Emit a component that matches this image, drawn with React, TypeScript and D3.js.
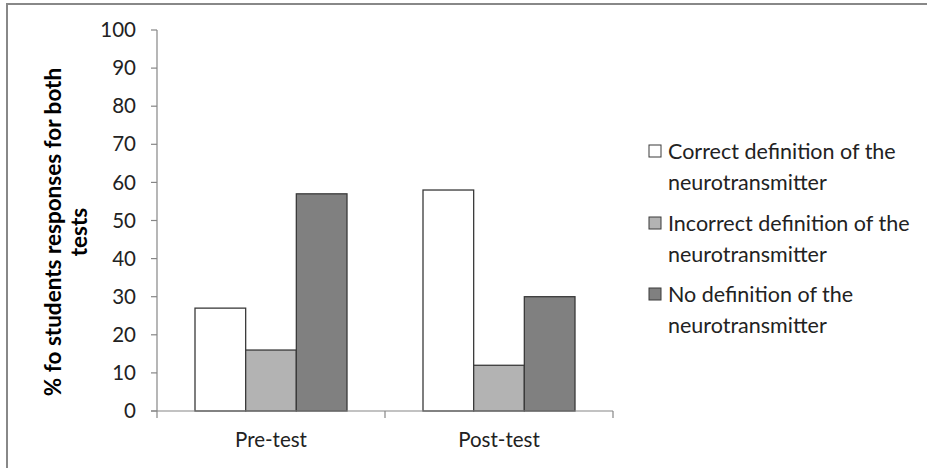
import React from "react";
import * as d3 from "d3";

const categories = ["Pre-test", "Post-test"];
const seriesNames = [
  ["Correct definition of the", "neurotransmitter"],
  ["Incorrect definition of the", "neurotransmitter"],
  ["No definition of the", "neurotransmitter"],
];
const correctValues = [27, 58];
const incorrectValues = [16, 12];
const noneValues = [57, 30];
const yTicks = [0, 10, 20, 30, 40, 50, 60, 70, 80, 90, 100];
const colors = ["#ffffff", "#b3b3b3", "#808080"];

const W = 927;
const H = 468;
const FONT = "Lato, 'Open Sans', sans-serif";

export default function App() {
  const series = [correctValues, incorrectValues, noneValues];
  const left = 157;
  const right = 613;
  const top = 30;
  const bottom = 411;
  const y = d3.scaleLinear().domain([0, 100]).range([bottom, top]);
  const x0 = d3.scaleBand().domain(categories).range([left, right]).paddingInner(0).paddingOuter(0);
  const bw = x0.bandwidth();
  const barW = bw / (3 + 1.5);
  const x1 = d3
    .scaleBand()
    .domain(["0", "1", "2"])
    .range([bw * (0.75 / 4.5), bw - bw * (0.75 / 4.5)]);
  const axisColor = "#868686";
  const legendX = 649;
  const legendRows = [151, 223, 294];

  return (
    <svg
      width={W}
      height={H}
      style={{ position: "absolute", left: 0, top: 0, background: "#fff" }}
      fontFamily={FONT}
    >
      <rect x={0} y={0} width={W} height={H} fill="#fff" />
      <line x1={7} y1={4} x2={7} y2={H} stroke="#888" strokeWidth={2} />
      <line x1={6} y1={4} x2={W} y2={4} stroke="#888" strokeWidth={2} />

      {/* bars */}
      {categories.map((c, ci) =>
        series.map((vals, si) => (
          <rect
            key={c + si}
            x={(x0(c) as number) + (x1(String(si)) as number)}
            y={y(vals[ci])}
            width={barW}
            height={bottom - y(vals[ci])}
            fill={colors[si]}
            stroke="#3a3a3a"
            strokeWidth={1.3}
          />
        ))
      )}

      {/* y axis */}
      <line x1={left} y1={top} x2={left} y2={bottom} stroke={axisColor} strokeWidth={1.2} />
      {yTicks.map((t) => (
        <g key={t}>
          <line x1={left - 6} x2={left} y1={y(t)} y2={y(t)} stroke={axisColor} strokeWidth={1.2} />
          <text x={136} y={y(t)} dy="0.35em" textAnchor="end" fontSize={20.5} fill="#222">
            {t}
          </text>
        </g>
      ))}

      {/* x axis */}
      <line x1={left - 6} x2={right} y1={bottom} y2={bottom} stroke={axisColor} strokeWidth={1.2} />
      {[...categories.map((c) => x0(c) as number), right].map((p, i) => (
        <line key={i} x1={p} x2={p} y1={bottom} y2={bottom + 7} stroke={axisColor} strokeWidth={1.2} />
      ))}
      {categories.map((c) => (
        <text
          key={c}
          x={(x0(c) as number) + bw / 2}
          y={440}
          dy="0.35em"
          textAnchor="middle"
          fontSize={20.5}
          fill="#222"
        >
          {c}
        </text>
      ))}

      {/* y title */}
      <g transform="translate(53,232) rotate(-90)">
        <text x={0} y={0} dy="0.35em" textAnchor="middle" fontSize={22.5} fontWeight="bold" fill="#000">
          % fo students responses for both
        </text>
        <text x={0} y={26} dy="0.35em" textAnchor="middle" fontSize={22.5} fontWeight="bold" fill="#000">
          tests
        </text>
      </g>

      {/* legend */}
      {seriesNames.map((lines, i) => (
        <g key={i}>
          <rect
            x={legendX}
            y={legendRows[i] - 6}
            width={12}
            height={12}
            fill={colors[i]}
            stroke="#3a3a3a"
            strokeWidth={1}
          />
          <text x={668} y={legendRows[i]} dy="0.35em" fontSize={21.5} fill="#222">
            {lines[0]}
          </text>
          <text x={668} y={legendRows[i] + 31} dy="0.35em" fontSize={21.5} fill="#222">
            {lines[1]}
          </text>
        </g>
      ))}
    </svg>
  );
}
